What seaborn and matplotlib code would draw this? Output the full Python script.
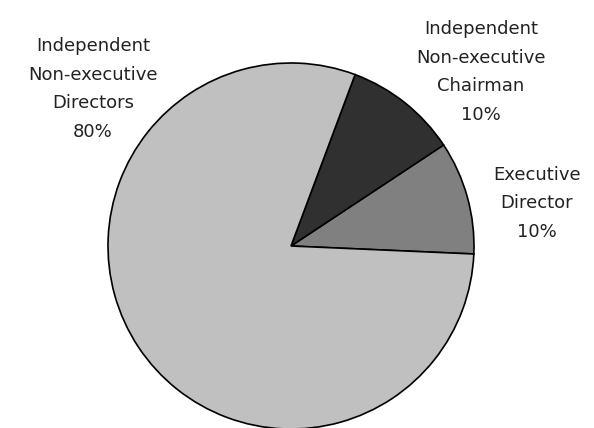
import matplotlib
matplotlib.use("Agg")
import matplotlib.pyplot as plt
import seaborn as sns

# board composition
labels = ["Executive\nDirector\n10%",
          "Independent\nNon-executive\nChairman\n10%",
          "Independent\nNon-executive\nDirectors\n80%"]
shares = [10, 10, 80]
colors = ["#808080", "#303030", "#c0c0c0"]

sns.set_theme(style="white")
plt.rcParams['font.family'] = ['DejaVu Sans']

fig = plt.figure(figsize=(5.94, 4.28), dpi=100)
ax = fig.add_axes([0, 0, 1, 1])

wedges, _ = ax.pie(shares, colors=colors, startangle=-2.5, counterclock=True,
                   center=(291, 428 - 246), radius=183, frame=True,
                   wedgeprops=dict(edgecolor="black", linewidth=1.2))
ax.set_xlim(0, 594)
ax.set_ylim(0, 428)
ax.set_aspect("equal")
ax.axis("off")

# label positions (pixel coords, from top)
label_pos = [(537, 203), (481, 72), (93, 89)]
for txt, (x, y) in zip(labels, label_pos):
    ax.text(x, 428 - y, txt, ha="center", va="center", fontsize=13,
            color="#222222", linespacing=1.75)

fig.savefig("out.png", dpi=100)
